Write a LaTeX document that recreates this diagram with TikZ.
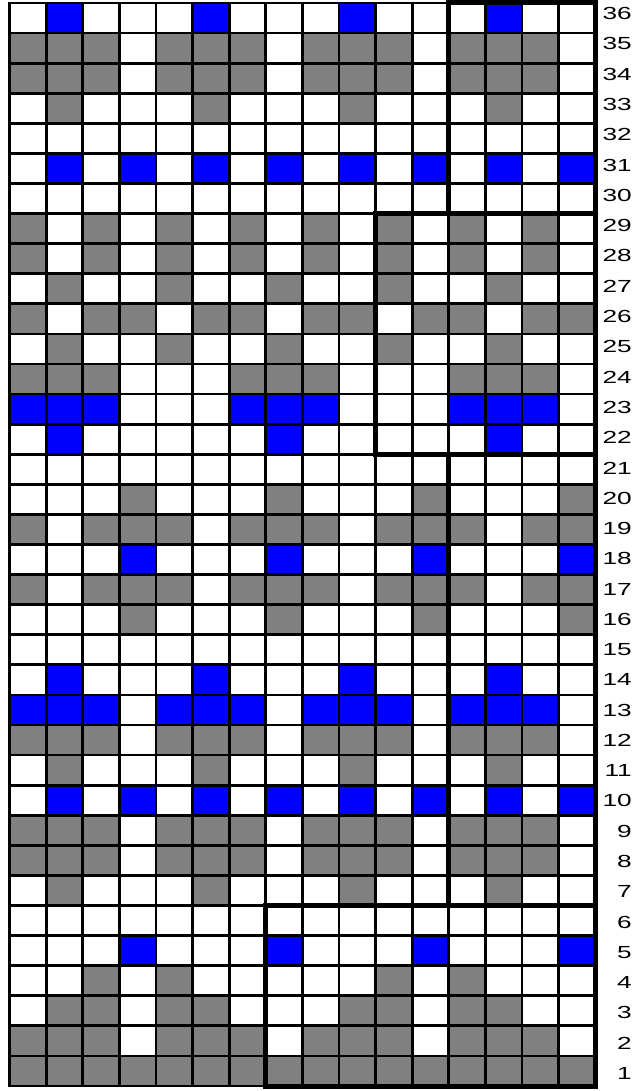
\documentclass[tikz,border=0pt]{standalone}
\usepackage{fontspec}
\usepackage{xcolor}
\usepackage{tikz}
\newfontfamily\numfont[FakeStretch=1.5]{Liberation Sans}
\definecolor{stgray}{HTML}{808080}
\definecolor{stblue}{HTML}{0000FF}

\begin{document}
\begin{tikzpicture}[
    x=36.6pt, y=30.083pt,
    cell0/.style={fill=white},
    cell1/.style={fill=stgray},
    cell2/.style={fill=stblue},
    gridline/.style={line width=2.8pt, black},
    repeatline/.style={line width=5pt, black},
    rownum/.style={font=\numfont\fontsize{17.5}{20}\selectfont, inner sep=0pt, anchor=east}
]
\useasboundingbox (-9.5pt,-5pt) rectangle (632.5pt,1086pt);
% chart rows, top to bottom: 0 white, 1 gray, 2 blue
\foreach \r/\cells in {
    36/{0,2,0,0,0,2,0,0,0,2,0,0,0,2,0,0},
    35/{1,1,1,0,1,1,1,0,1,1,1,0,1,1,1,0},
    34/{1,1,1,0,1,1,1,0,1,1,1,0,1,1,1,0},
    33/{0,1,0,0,0,1,0,0,0,1,0,0,0,1,0,0},
    32/{0,0,0,0,0,0,0,0,0,0,0,0,0,0,0,0},
    31/{0,2,0,2,0,2,0,2,0,2,0,2,0,2,0,2},
    30/{0,0,0,0,0,0,0,0,0,0,0,0,0,0,0,0},
    29/{1,0,1,0,1,0,1,0,1,0,1,0,1,0,1,0},
    28/{1,0,1,0,1,0,1,0,1,0,1,0,1,0,1,0},
    27/{0,1,0,0,1,0,0,1,0,0,1,0,0,1,0,0},
    26/{1,0,1,1,0,1,1,0,1,1,0,1,1,0,1,1},
    25/{0,1,0,0,1,0,0,1,0,0,1,0,0,1,0,0},
    24/{1,1,1,0,0,0,1,1,1,0,0,0,1,1,1,0},
    23/{2,2,2,0,0,0,2,2,2,0,0,0,2,2,2,0},
    22/{0,2,0,0,0,0,0,2,0,0,0,0,0,2,0,0},
    21/{0,0,0,0,0,0,0,0,0,0,0,0,0,0,0,0},
    20/{0,0,0,1,0,0,0,1,0,0,0,1,0,0,0,1},
    19/{1,0,1,1,1,0,1,1,1,0,1,1,1,0,1,1},
    18/{0,0,0,2,0,0,0,2,0,0,0,2,0,0,0,2},
    17/{1,0,1,1,1,0,1,1,1,0,1,1,1,0,1,1},
    16/{0,0,0,1,0,0,0,1,0,0,0,1,0,0,0,1},
    15/{0,0,0,0,0,0,0,0,0,0,0,0,0,0,0,0},
    14/{0,2,0,0,0,2,0,0,0,2,0,0,0,2,0,0},
    13/{2,2,2,0,2,2,2,0,2,2,2,0,2,2,2,0},
    12/{1,1,1,0,1,1,1,0,1,1,1,0,1,1,1,0},
    11/{0,1,0,0,0,1,0,0,0,1,0,0,0,1,0,0},
    10/{0,2,0,2,0,2,0,2,0,2,0,2,0,2,0,2},
    9/{1,1,1,0,1,1,1,0,1,1,1,0,1,1,1,0},
    8/{1,1,1,0,1,1,1,0,1,1,1,0,1,1,1,0},
    7/{0,1,0,0,0,1,0,0,0,1,0,0,0,1,0,0},
    6/{0,0,0,0,0,0,0,0,0,0,0,0,0,0,0,0},
    5/{0,0,0,2,0,0,0,2,0,0,0,2,0,0,0,2},
    4/{0,0,1,0,1,0,0,0,0,0,1,0,1,0,0,0},
    3/{0,1,1,0,1,1,0,0,0,1,1,0,1,1,0,0},
    2/{1,1,1,0,1,1,1,0,1,1,1,0,1,1,1,0},
    1/{1,1,1,1,1,1,1,1,1,1,1,1,1,1,1,1}}
    \foreach \c [count=\i] in \cells
        \fill[cell\c] (\i-1,\r-1) rectangle ++(1,1);
% grid lines
\foreach \i in {0,...,16}
    \draw[gridline] (\i,0) -- (\i,36);
\foreach \j in {0,...,36}
    \draw[gridline] (0,\j) -- (16,\j);
\draw[gridline, line cap=rect] (0,0) rectangle (16,36);
% repeat boxes
\draw[repeatline] (12,29) rectangle (16,36);
\draw[repeatline] (10,21) rectangle (16,29);
\draw[repeatline] (12,6) rectangle (16,21);
\draw[repeatline] (7,0) rectangle (16,6);
% row numbers
\foreach \r in {1,...,36}
    \node[rownum] (n\r) at (622.5pt, {(\r*1.00655-0.591)*30.083pt}) {\r};
\end{tikzpicture}
\end{document}
